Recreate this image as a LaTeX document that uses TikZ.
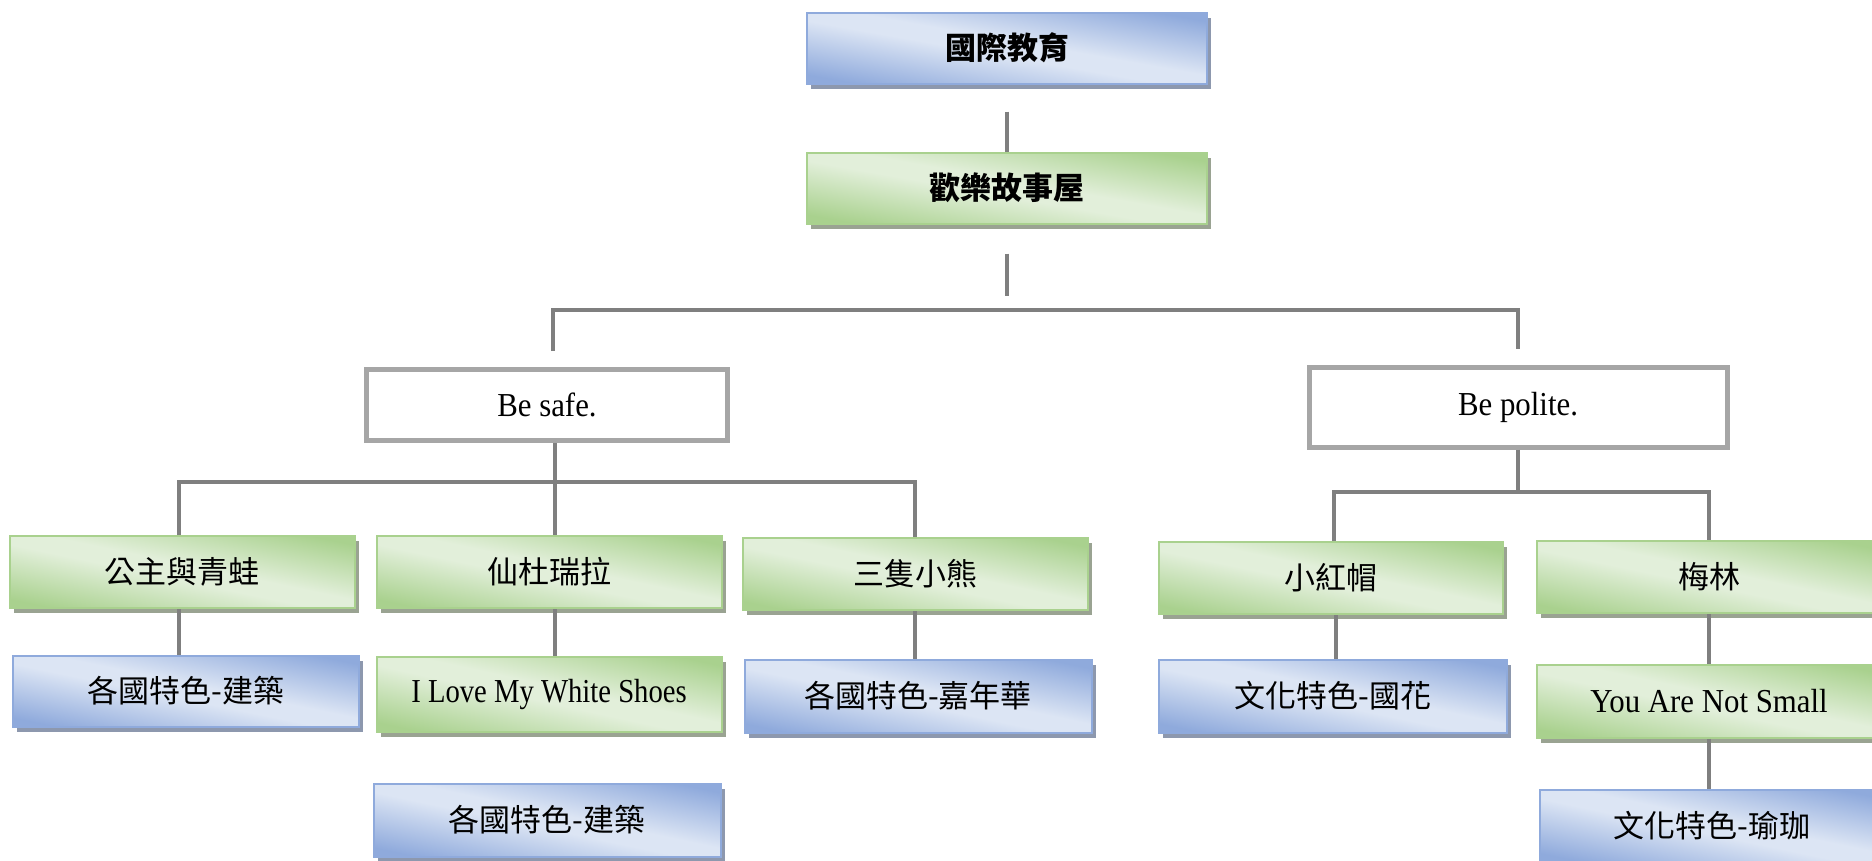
\documentclass[tikz,border=0pt]{standalone}
\usepackage{fontspec}
\setmainfont{Liberation Serif}[FakeStretch=0.92]
\newfontfamily\cjk{Noto Sans CJK TC}
\usetikzlibrary{shadows}
\definecolor{lanshen}{HTML}{8FAADC}
\definecolor{lanqian}{HTML}{DCE5F4}
\definecolor{lanying}{HTML}{8D98AE}
\definecolor{lvshen}{HTML}{A9D18E}
\definecolor{lvqian}{HTML}{E2EFDA}
\definecolor{lvying}{HTML}{9AA392}
\definecolor{huibian}{HTML}{A6A6A6}
\definecolor{huixian}{HTML}{7F7F7F}
\newcommand\zihao{\fontsize{31pt}{36pt}\selectfont}
\newcommand\zihaoen{\fontsize{33.5pt}{38pt}\selectfont}
% 斜向漸層
\pgfdeclarehorizontalshading{lanjian}{200bp}{color(0bp)=(lanshen); color(38bp)=(lanshen); color(92bp)=(lanqian);
    color(108bp)=(lanqian); color(162bp)=(lanshen); color(200bp)=(lanshen)}
\pgfdeclarehorizontalshading{lvjian}{200bp}{color(0bp)=(lvshen); color(38bp)=(lvshen); color(92bp)=(lvqian);
    color(108bp)=(lvqian); color(162bp)=(lvshen); color(200bp)=(lvshen)}
\newcommand\jianbian[1]{%
    \pgfpointdiff{\pgfpointanchor{path picture bounding box}{south west}}{\pgfpointanchor{path picture bounding box}{north east}}%
    \pgfgetlastxy\kuan\gao
    \pgfmathsetmacro\sx{\kuan/100.375}\pgfmathsetmacro\sy{\gao/100.375}%
    \pgftransformshift{\pgfpointanchor{path picture bounding box}{center}}%
    \pgftransformxscale{\sx}\pgftransformyscale{\sy}\pgftransformrotate{45}%
    \pgflowlevelsynccm\pgfuseshading{#1}}
\begin{document}
\begin{tikzpicture}[x=1pt,y=-1pt,
    kuang/.style={inner sep=0pt,minimum width=345pt,minimum height=72pt,line width=2pt,font=\zihaoen},
    lan/.style={kuang,draw=lanshen,path picture={\jianbian{lanjian}},
        drop shadow={shadow xshift=4pt,shadow yshift=-5pt,fill=lanying,opacity=1}},
    lv/.style={kuang,draw=lvshen,path picture={\jianbian{lvjian}},
        drop shadow={shadow xshift=4pt,shadow yshift=-5pt,fill=lvying,opacity=1}},
    hui/.style={draw=huibian,line width=5pt,fill=white,inner sep=0pt,font=\zihaoen},
    zh/.style={font=\zihao\cjk},
    lianxian/.style={draw=huixian,line width=3.5pt}]
    \useasboundingbox (0,0) rectangle (1872,860);
    % 第一、二層
    \node[lan,zh,font=\zihao\cjk\bfseries,minimum width=400pt,minimum height=71pt] (guoji) at (1007,48) {國際教育};
    \node[lv,zh,font=\zihao\cjk\bfseries,minimum width=400pt,minimum height=71pt] (gushi) at (1007,188) {歡樂故事屋};
    \node[hui,minimum width=361pt,minimum height=71pt] (safe) at (547,405) {Be safe.};
    \node[hui,minimum width=418pt,minimum height=80pt] (polite) at (1518,407) {Be polite.};
    % Be safe. 之下
    \node[lv,zh] (frog) at (182,572) {公主與青蛙};
    \node[lv,zh] (cinder) at (549,572) {仙杜瑞拉};
    \node[lv,zh] (bears) at (915,574) {三隻小熊};
    \node[lan,zh,minimum width=346pt,minimum height=71pt] (jianzhuA) at (186,691) {各國特色-建築};
    \node[lv,minimum height=75pt] (shoes) at (549,694) {\scalebox{0.93}[1]{I Love My White Shoes}};
    \node[lan,zh,minimum width=347pt,minimum height=73pt] (carnival) at (918,696) {各國特色-嘉年華};
    \node[lan,zh,minimum width=347pt,minimum height=73pt] (jianzhuB) at (547,820) {各國特色-建築};
    % Be polite. 之下
    \node[lv,zh,minimum width=344pt] (hood) at (1331,578) {小紅帽};
    \node[lv,zh] (merlin) at (1709,577) {梅林};
    \node[lan,zh,minimum width=348pt,minimum height=73pt] (guohua) at (1333,696) {文化特色-國花};
    \node[lv,minimum height=73pt] (small) at (1709,701) {You Are Not Small};
    \node[lan,zh] (yoga) at (1712,826) {文化特色-瑜珈};
    % 連接線
    \coordinate (zong) at (1007,310);
    \coordinate (anquan) at (555,482);
    \coordinate (limao) at (1518,492);
    \draw[lianxian] ([yshift=-27pt]guoji.south) -- (gushi.north);
    \draw[lianxian] ([yshift=-29pt]gushi.south) -- ([yshift=14pt]zong);
    \draw[lianxian] ([xshift=6pt,yshift=16pt]safe.north) |- (zong) -| ([yshift=16pt]polite.north);
    \draw[lianxian] ([xshift=8pt]safe.south) -- ([xshift=6pt]cinder.north);
    \draw[lianxian] ([xshift=-3pt]frog.north) |- (anquan) -| (bears.north);
    \draw[lianxian] ([xshift=-3pt]frog.south) -- ([xshift=-3pt]frog.south |- jianzhuA.north);
    \draw[lianxian] ([xshift=6pt]cinder.south) -- ([xshift=6pt]shoes.north);
    \draw[lianxian] (bears.south) -- (bears.south |- carnival.north);
    \draw[lianxian] (polite.south) -- (limao);
    \draw[lianxian] ([xshift=3pt]hood.north) |- (limao) -| (merlin.north);
    \draw[lianxian] ([xshift=5pt]hood.south) -- ([xshift=5pt]hood.south |- guohua.north);
    \draw[lianxian] (merlin.south) -- (small.north);
    \draw[lianxian] (small.south) -- (small.south |- yoga.north);
\end{tikzpicture}
\end{document}
